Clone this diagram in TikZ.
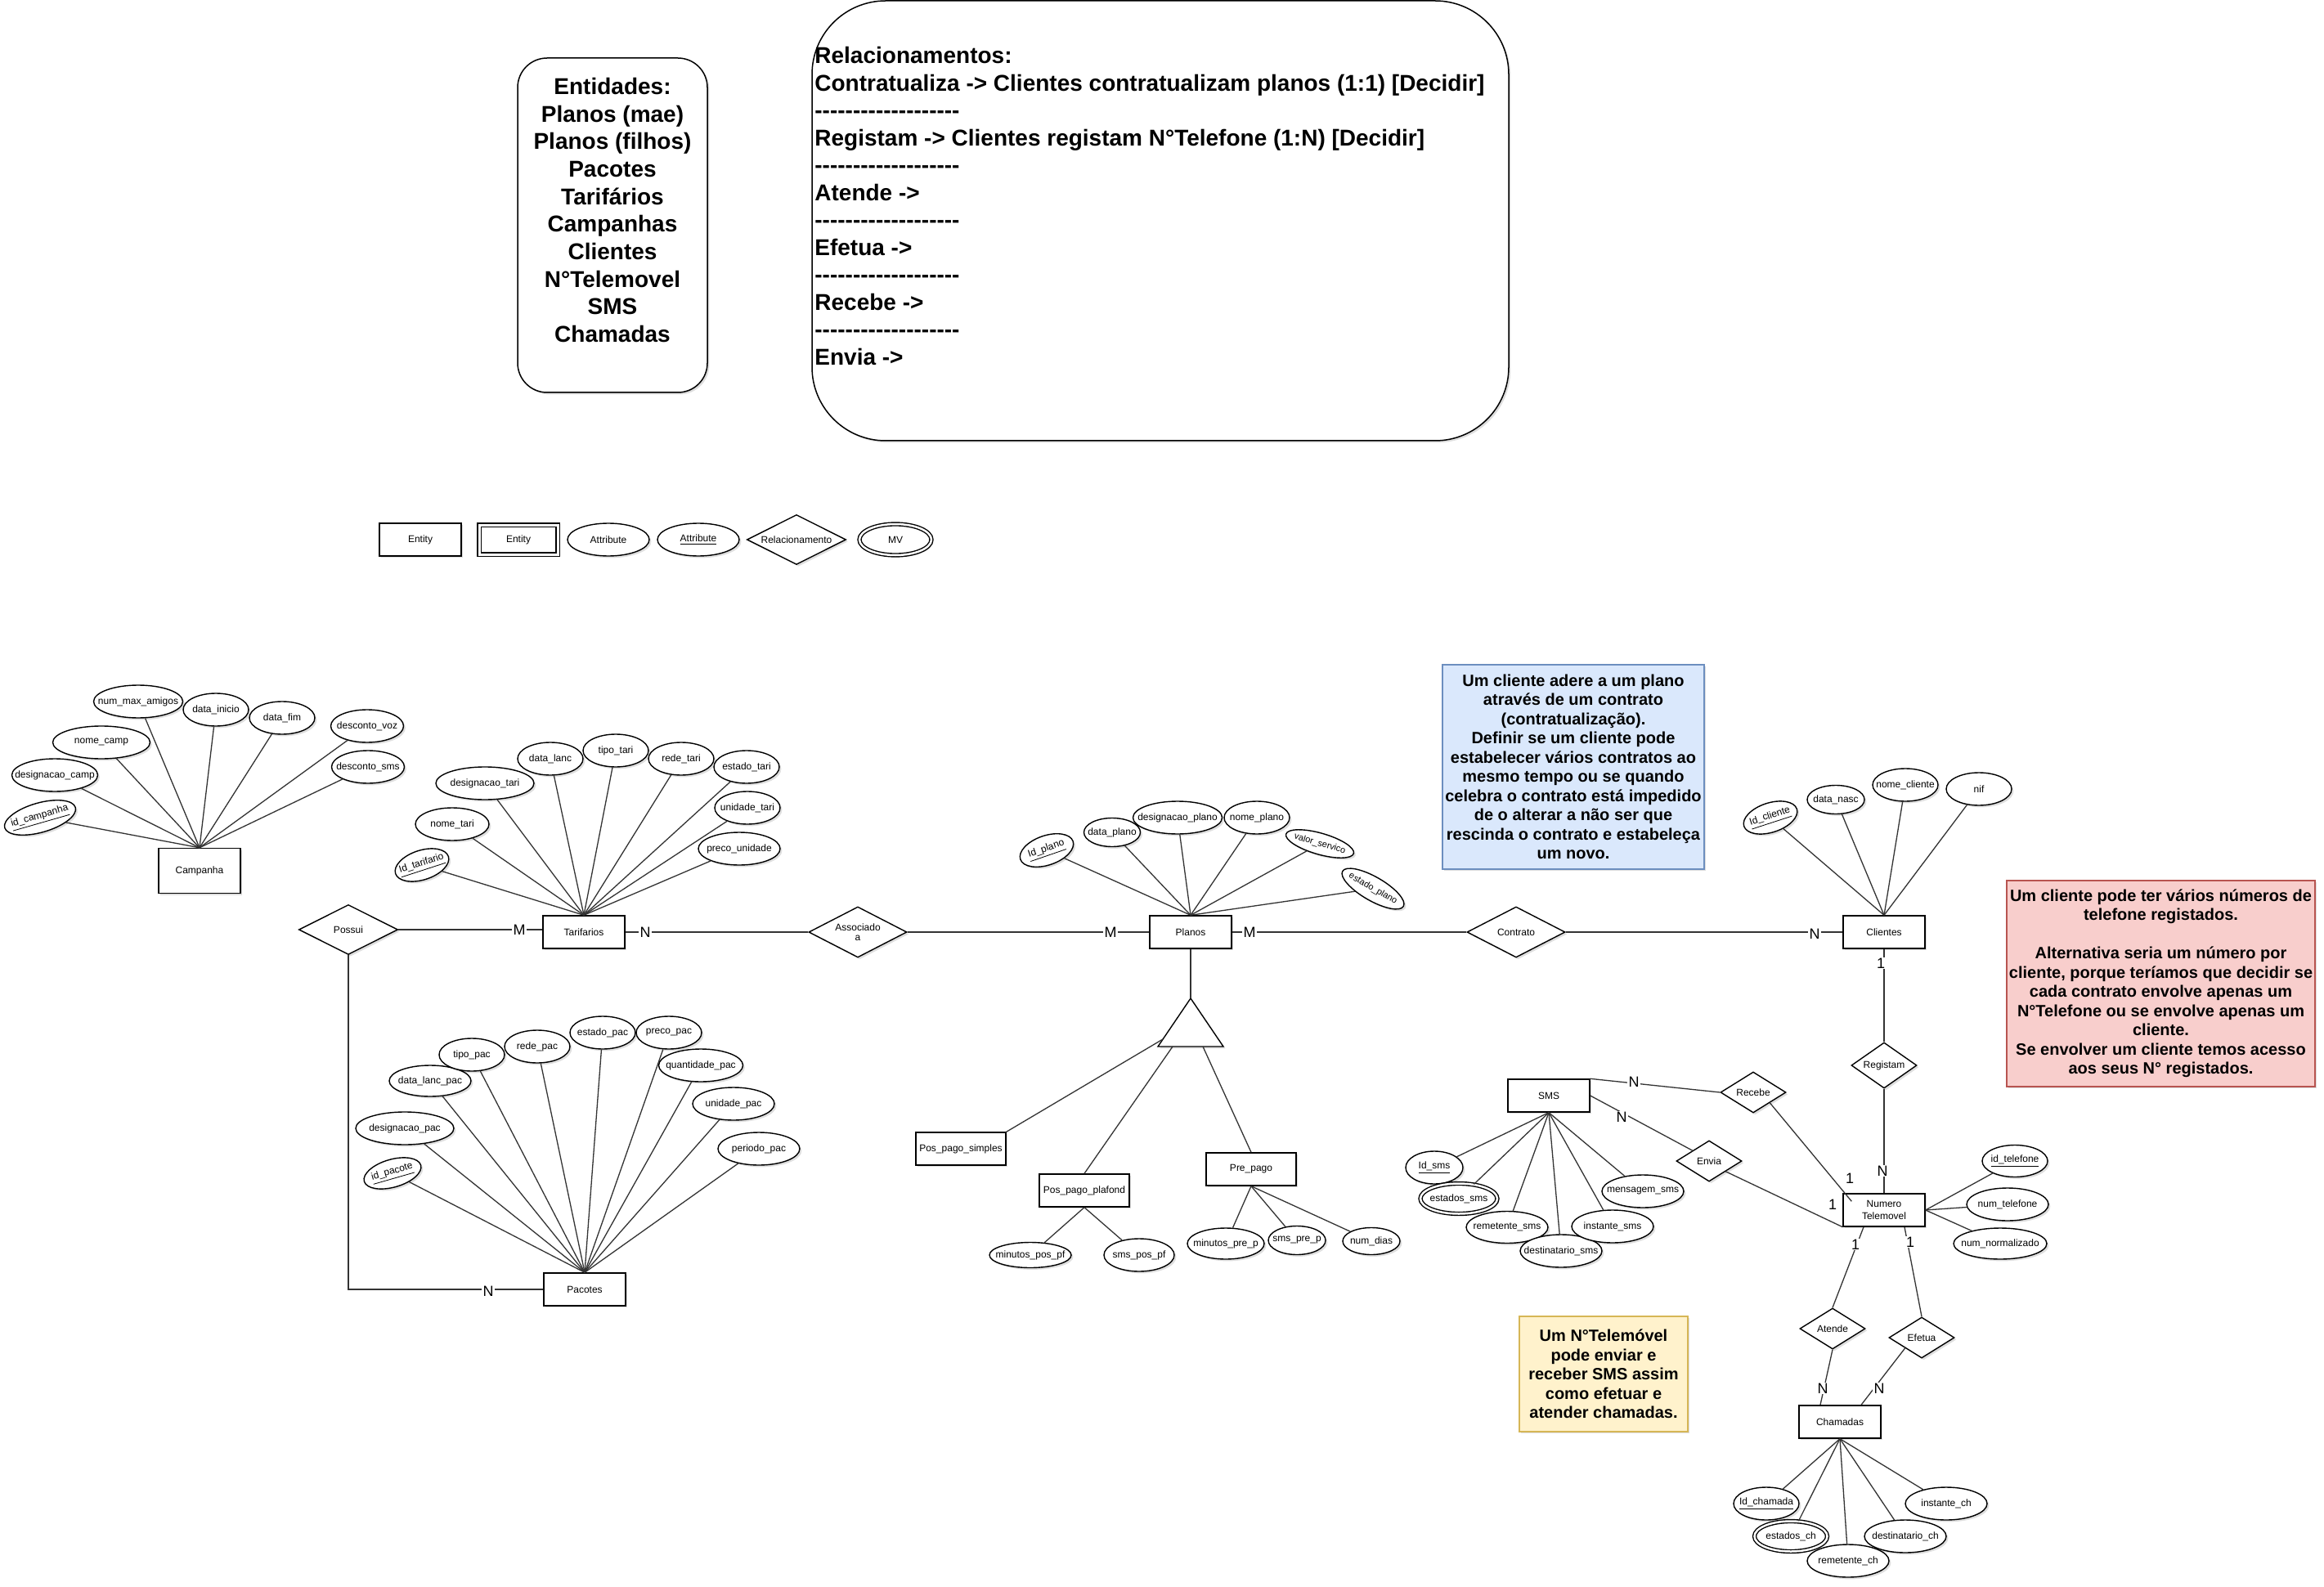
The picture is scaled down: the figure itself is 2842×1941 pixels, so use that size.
\documentclass[tikz,border=0pt]{standalone}
\usepackage{fontspec}
\setmainfont{Liberation Sans}
\usetikzlibrary{shapes.geometric,shadows,calc}
\newdimen\pxu \pxu=0.5pt
\newcommand\tx[1]{\makebox[0pt]{#1}}
\newcommand\hy{-\kern0pt}
\newcommand\dashrow{\hy\hy\hy\hy\hy\hy\hy\hy\hy\hy\hy\hy\hy\hy\hy\hy\hy\hy\hy}
\begin{document}
\begin{tikzpicture}[x=0.5pt,y=-0.5pt,
  shd/.style={drop shadow={shadow xshift=1.2pt,shadow yshift=-1.2pt,opacity=0.13,fill=black}},
  ent/.style={draw,line width=0.7pt,fill=white,shd,minimum width=100\pxu,minimum height=40\pxu,inner sep=0pt,align=center,font=\fontsize{6}{7.2}\selectfont},
  att/.style={ellipse,draw,line width=0.7pt,fill=white,shd,minimum width=80\pxu,minimum height=40\pxu,inner sep=0pt,font=\fontsize{6}{7.2}\selectfont},
  mv/.style={att,double,double distance=2.5\pxu},
  rel/.style={diamond,draw,line width=0.7pt,fill=white,shd,minimum width=80\pxu,minimum height=50\pxu,inner sep=0pt,font=\fontsize{6}{7.2}\selectfont},
  card/.style={fill=white,inner sep=0.6pt,font=\fontsize{9}{10}\selectfont},
  ln/.style={draw=black!80,line width=0.65pt},
  note/.style={draw,line width=0.75pt,shd,inner sep=0pt,align=center,font=\bfseries\fontsize{10}{11.75}\selectfont}]

\fill[white] (0,0) rectangle (2842,1941);
\useasboundingbox (0,0) rectangle (2842,1941);

% ---------- top boxes ----------
\node[draw,line width=0.75pt,fill=white,shd,rounded corners=36\pxu,minimum width=232\pxu,minimum height=409\pxu] (entbox) at (749,275.5) {};
\node[align=center,inner sep=0pt,font=\bfseries\fontsize{14}{16.85}\selectfont] (enttxt) at (749,257) {Entidades:\\Planos (mae)\\Planos (filhos)\\Pacotes\\Tarifários\\Campanhas\\Clientes\\N°Telemovel\\SMS\\Chamadas};

\node[draw,line width=0.75pt,fill=white,shd,rounded corners=90\pxu,minimum width=852\pxu,minimum height=538\pxu] (relbox) at (1419,270) {};
\node[anchor=north west,align=left,inner sep=0pt,font=\bfseries\fontsize{14}{16.75}\selectfont] (reltxt) at (996,57) {Relacionamentos:\\Contratualiza -> Clientes contratualizam planos (1:1) [Decidir]\\\dashrow\\Registam -> Clientes registam N°Telefone (1:N) [Decidir]\\\dashrow\\Atende ->\\\dashrow\\Efetua ->\\\dashrow\\Recebe ->\\\dashrow\\Envia ->};

% ---------- legend ----------
\node[ent] (lg1) at (514,660) {Entity};
\node[ent,double,double distance=3\pxu,minimum width=96\pxu,minimum height=36\pxu] (lg2) at (634,660) {Entity};
\node[att,minimum width=100\pxu] (lg3) at (744,660) {\tx{Attribute}};
\node[att,minimum width=100\pxu] (lg4) at (854,660) {\tx{\underline{Attribute}}};
\node[rel,minimum width=121\pxu,minimum height=61\pxu] (lg5) at (974,660) {\tx{Relacionamento}};
\node[mv,minimum width=88\pxu,minimum height=38\pxu] (lg6) at (1095,660) {\tx{MV}};

% ---------- notes ----------
\node[note,fill={rgb,255:red,218;green,232;blue,252},draw={rgb,255:red,108;green,142;blue,191},minimum width=320\pxu,minimum height=250\pxu] (n1) at (1924,938) {Um cliente adere a um plano\\através de um contrato\\(contratualização).\\Definir se um cliente pode\\estabelecer vários contratos ao\\mesmo tempo ou se quando\\celebra o contrato está impedido\\de o alterar a não ser que\\rescinda o contrato e estabeleça\\um novo.};
\node[note,fill={rgb,255:red,248;green,206;blue,204},draw={rgb,255:red,184;green,84;blue,80},minimum width=377\pxu,minimum height=252\pxu] (n2) at (2642.5,1203) {Um cliente pode ter vários números de\\telefone registados.\\[11.75pt]Alternativa seria um número por\\cliente, porque teríamos que decidir se\\cada contrato envolve apenas um\\N°Telefone ou se envolve apenas um\\cliente.\\Se envolver um cliente temos acesso\\aos seus N° registados.};
\node[note,fill={rgb,255:red,255;green,242;blue,204},draw={rgb,255:red,214;green,182;blue,86},minimum width=206\pxu,minimum height=141\pxu] (n3) at (1961,1680.5) {Um N°Telemóvel\\pode enviar e\\receber SMS assim\\como efetuar e\\atender chamadas.};

% ---------- Campanha ----------
\node[ent,minimum height=55\pxu] (camp) at (244,1065) {Campanha};
\node[att,minimum width=109\pxu] (a_nma) at (169,858) {\tx{num\_max\_amigos}};
\node[att] (a_dti) at (264,868) {\tx{data\_inicio}};
\node[att] (a_dfi) at (345,878) {\tx{data\_fim}};
\node[att,minimum width=89\pxu] (a_dvo) at (449,888) {\tx{desconto\_voz}};
\node[att,minimum width=89\pxu] (a_dsm) at (450,938) {\tx{desconto\_sms}};
\node[att,minimum width=119\pxu] (a_nca) at (124,908) {\tx{nome\_camp}};
\node[att,minimum width=105\pxu] (a_dca) at (67,948) {\tx{designacao\_camp}};
\node[att,minimum width=90\pxu,minimum height=36\pxu,rotate=16] (a_idc) at (49,1000) {\tx{\underline{id\_campanha}}};
\foreach \a in {a_nma,a_dti,a_dfi,a_dvo,a_dsm,a_nca,a_dca,a_idc} \draw[ln] (\a) -- (camp.north);

% ---------- Tarifarios ----------
\node[ent] (tari) at (714,1140) {Tarifarios};
\node[att,minimum width=120\pxu] (t_des) at (593,958) {\tx{designacao\_tari}};
\node[att] (t_dla) at (673,928) {\tx{data\_lanc}};
\node[att] (t_tip) at (753,918) {\tx{tipo\_tari}};
\node[att] (t_red) at (833,928) {\tx{rede\_tari}};
\node[att] (t_est) at (913,938) {\tx{estado\_tari}};
\node[att] (t_uni) at (914,988) {\tx{unidade\_tari}};
\node[att,minimum width=100\pxu] (t_pre) at (904,1038) {\tx{preco\_unidade}};
\node[att,minimum width=90\pxu] (t_nom) at (553,1008) {\tx{nome\_tari}};
\node[att,minimum width=68\pxu,minimum height=36\pxu,rotate=18] (t_id) at (516,1058) {\tx{\underline{Id\_tarifario}}};
\foreach \a in {t_des,t_dla,t_tip,t_red,t_est,t_uni,t_pre,t_nom,t_id} \draw[ln] (\a) -- (tari.north);

% ---------- Pacotes ----------
\node[ent] (pac) at (715,1577) {Pacotes};
\node[att,minimum width=72\pxu,minimum height=34\pxu,rotate=16] (p_id) at (480,1435) {\tx{\underline{id\_pacote}}};
\node[att,minimum width=120\pxu] (p_des) at (495,1380) {\tx{designacao\_pac}};
\node[att,minimum width=100\pxu,minimum height=38\pxu] (p_dla) at (526,1322) {\tx{data\_lanc\_pac}};
\node[att] (p_tip) at (577,1290) {\tx{tipo\_pac}};
\node[att] (p_red) at (657,1280) {\tx{rede\_pac}};
\node[att] (p_est) at (737,1263) {\tx{estado\_pac}};
\node[att] (p_pre) at (818,1263) {\tx{preco\_pac}};
\node[att,minimum width=103\pxu] (p_qua) at (857,1303) {\tx{quantidade\_pac}};
\node[att,minimum width=100\pxu] (p_uni) at (897,1350) {\tx{unidade\_pac}};
\node[att,minimum width=100\pxu] (p_per) at (928,1405) {\tx{periodo\_pac}};
\foreach \a in {p_id,p_des,p_dla,p_tip,p_red,p_est,p_pre,p_qua,p_uni,p_per} \draw[ln] (\a) -- (pac.north);

% ---------- Planos ----------
\node[ent] (planos) at (1456,1140) {Planos};
\node[att,minimum width=68\pxu,minimum height=36\pxu,rotate=19] (pl_id) at (1280,1040) {\tx{\underline{Id\_plano}}};
\node[att,minimum width=69\pxu,minimum height=35\pxu] (pl_dat) at (1360,1018) {\tx{data\_plano}};
\node[att,minimum width=109\pxu] (pl_des) at (1440,1000) {\tx{designacao\_plano}};
\node[att] (pl_nom) at (1537,1000) {\tx{nome\_plano}};
\node[att,minimum width=86\pxu,minimum height=26\pxu,rotate=-16,font=\fontsize{5.5}{6.6}\selectfont] (pl_val) at (1614,1032) {\tx{valor\_servico}};
\node[att,minimum width=86\pxu,minimum height=29\pxu,rotate=-30,font=\fontsize{5.5}{6.6}\selectfont] (pl_est) at (1679,1087) {\tx{estado\_plano}};
\foreach \a in {pl_id,pl_dat,pl_des,pl_nom,pl_val,pl_est} \draw[ln] (\a) -- (planos.north);

% specialization triangle
\coordinate (tri_t) at (1456,1221);
\coordinate (tri_l) at (1416,1280);
\coordinate (tri_r) at (1496,1280);
\coordinate (tri_a) at (1422,1271);
\coordinate (tri_b) at (1434,1280);
\coordinate (tri_c) at (1471,1280);
\filldraw[fill=white,draw=black,line width=0.7pt,shd] (tri_t) -- (tri_l) -- (tri_r) -- cycle;
\draw[ln] (planos.south) -- (tri_t);

\node[ent,minimum width=110\pxu] (pps) at (1175,1405) {Pos\_pago\_simples};
\node[ent,minimum width=110\pxu] (ppf) at (1326,1456) {Pos\_pago\_plafond};
\node[ent,minimum width=110\pxu] (pre) at (1530,1430) {Pre\_pago};
\draw[ln] (pps.north east) -- (tri_a);
\draw[ln] (ppf.north) -- (tri_b);
\draw[ln] (pre.north) -- (tri_c);

\node[att,minimum width=100\pxu,minimum height=31\pxu] (f_min) at (1260,1535) {\tx{minutos\_pos\_pf}};
\node[att,minimum width=86\pxu] (f_sms) at (1393,1535) {\tx{sms\_pos\_pf}};
\foreach \a in {f_min,f_sms} \draw[ln] (\a) -- (ppf.south);
\node[att,minimum width=94\pxu,minimum height=38\pxu] (r_min) at (1499,1521) {\tx{minutos\_pre\_p}};
\node[att,minimum width=70\pxu,minimum height=35\pxu] (r_sms) at (1586,1517) {\tx{sms\_pre\_p}};
\node[att,minimum width=70\pxu,minimum height=33\pxu] (r_dia) at (1677,1518) {\tx{num\_dias}};
\foreach \a in {r_min,r_sms,r_dia} \draw[ln] (\a) -- (pre.south);

% ---------- Clientes ----------
\node[ent] (cli) at (2304,1140) {Clientes};
\node[att,minimum width=68\pxu,minimum height=36\pxu,rotate=18] (c_id) at (2165,1000) {\tx{\underline{Id\_cliente}}};
\node[att,minimum width=70\pxu,minimum height=35\pxu] (c_dn) at (2245,978) {\tx{data\_nasc}};
\node[att] (c_nom) at (2330,960) {\tx{nome\_cliente}};
\node[att] (c_nif) at (2420,965) {\tx{nif}};
\foreach \a in {c_id,c_dn,c_nom,c_nif} \draw[ln] (\a) -- (cli.north);

% ---------- relationships (top row) ----------
\node[rel,minimum width=121\pxu,minimum height=61\pxu] (possui) at (426,1137) {\tx{Possui}};
\node[rel,minimum width=120\pxu,minimum height=62\pxu,align=center] (assoc) at (1049,1140) {\tx{\shortstack{Associado\\a}}};
\node[rel,minimum width=120\pxu,minimum height=62\pxu] (contrato) at (1854,1140) {\tx{Contrato}};
\node[rel,minimum height=56\pxu] (registam) at (2304,1303) {\tx{Registam}};

\draw[ln] (possui.east) -- (possui.east -| tari.west);
\draw[ln] (possui.south) |- (pac.west);
\draw[ln] (tari.east) -- (assoc.west);
\draw[ln] (assoc.east) -- (planos.west);
\draw[ln] (planos.east) -- (contrato.west);
\draw[ln] (contrato.east) -- (cli.west);
\draw[ln] (cli.south) -- (registam.north);

% ---------- SMS ----------
\node[ent] (sms) at (1894,1340) {SMS};
\node[att,minimum width=70\pxu] (s_id) at (1754,1428) {\tx{\underline{Id\_sms}}};
\node[mv,minimum width=94\pxu,minimum height=37\pxu] (s_est) at (1784,1466) {\tx{estados\_sms}};
\node[att,minimum width=100\pxu,minimum height=39\pxu] (s_rem) at (1843,1501) {\tx{remetente\_sms}};
\node[att,minimum width=100\pxu] (s_des) at (1909,1530) {\tx{destinatario\_sms}};
\node[att,minimum width=100\pxu] (s_ins) at (1972,1500) {\tx{instante\_sms}};
\node[att,minimum width=100\pxu] (s_men) at (2009,1457) {\tx{mensagem\_sms}};
\foreach \a in {s_id,s_est,s_rem,s_des,s_ins,s_men} \draw[ln] (\a) -- (sms.south);

\node[rel] (recebe) at (2144,1336) {\tx{Recebe}};
\node[rel] (envia) at (2090,1420) {\tx{Envia}};

% ---------- Numero Telemovel ----------
\node[ent] (num) at (2304,1480) {Numero\\Telemovel};
\node[att,minimum height=39\pxu] (n_id) at (2464,1420) {\tx{\underline{id\_telefone}}};
\node[att,minimum width=100\pxu] (n_tel) at (2455,1473) {\tx{num\_telefone}};
\node[att,minimum width=114\pxu,minimum height=38\pxu] (n_nor) at (2446,1521) {\tx{num\_normalizado}};
\foreach \a in {n_id,n_tel,n_nor} \draw[ln] (\a) -- (num.east);

\draw[ln] (registam.south) -- (num.north);
\draw[ln] (sms.north east) -- (recebe.west);
\draw[ln] (sms.east) -- (envia.north west);
\draw[ln] (recebe.south east) -- ($(num.north west)+(11,10)$);
\draw[ln] (envia.south east) -- (num.south west);

% ---------- Chamadas ----------
\node[rel] (atende) at (2241,1625) {\tx{Atende}};
\node[rel] (efetua) at (2350,1636) {\tx{Efetua}};
\node[ent] (cham) at (2250,1739) {Chamadas};
\draw[ln] ($(num.south)+(-25,0)$) -- (atende.north);
\draw[ln] ($(num.south)+(25,0)$) -- (efetua.north);
\draw[ln] (atende.south) -- ($(cham.north)+(-24,0)$);
\draw[ln] (efetua.south west) -- ($(cham.north)+(26,0)$);

\node[att] (h_id) at (2160,1839) {\tx{\underline{Id\_chamada}}};
\node[mv,minimum width=89\pxu,minimum height=37\pxu] (h_est) at (2190,1879) {\tx{estados\_ch}};
\node[att,minimum width=100\pxu] (h_rem) at (2260,1909) {\tx{remetente\_ch}};
\node[att,minimum width=100\pxu] (h_des) at (2330,1879) {\tx{destinatario\_ch}};
\node[att,minimum width=100\pxu] (h_ins) at (2380,1839) {\tx{instante\_ch}};
\foreach \a in {h_id,h_est,h_rem,h_des,h_ins} \draw[ln] (\a) -- (cham.south);

% ---------- cardinalities ----------
\node[card] (k1) at (635,1137) {M};
\node[card] (k2) at (789,1140) {N};
\node[card] (k3) at (1358,1140) {M};
\node[card] (k4) at (1528,1140) {M};
\node[card] (k5) at (2219,1142) {N};
\node[card] (k6) at (2300,1178) {1};
\node[card] (k7) at (2302,1432) {N};
\node[card] (k8) at (597,1579) {N};
\node[card] (k9) at (1998,1323) {N};
\node[card] (k10) at (1983,1366) {N};
\node[card] (k11) at (2262,1441) {1};
\node[card] (k12) at (2241,1473) {1};
\node[card] (k13) at (2269,1522) {1};
\node[card] (k14) at (2336,1519) {1};
\node[card] (k15) at (2229,1698) {N};
\node[card] (k16) at (2298,1698) {N};
\end{tikzpicture}
\end{document}
